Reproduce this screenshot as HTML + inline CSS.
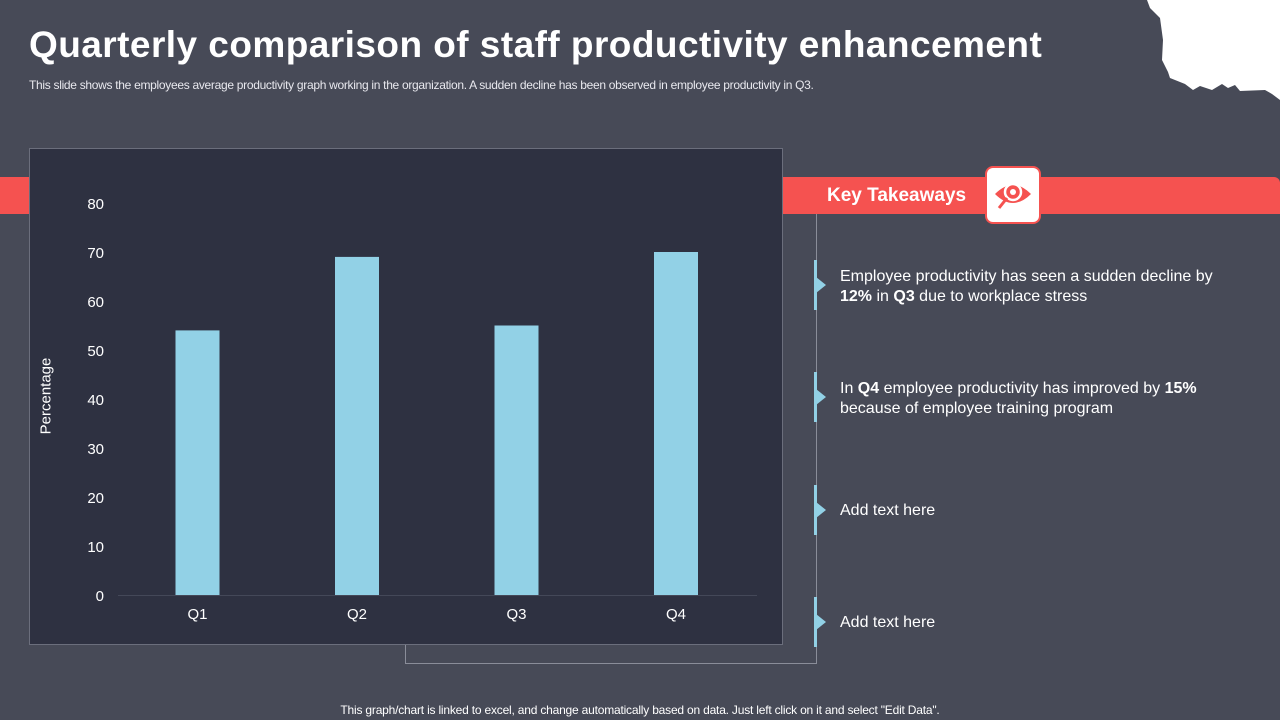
<!DOCTYPE html>
<html><head><meta charset="utf-8"><style>
body{margin:0;width:1280px;height:720px;overflow:hidden;background:#474a57;font-family:"Liberation Sans",sans-serif;position:relative;color:#fff}
.abs{position:absolute}
</style></head><body>
<div class="abs" style="left:0;top:0;width:1280px;height:110px">
<svg width="1280" height="110"><polygon fill="#fff" points="1147,0 1280,0 1280,100 1272,94 1265,90 1240,91 1235,85 1228,88 1222,84 1212,90 1200,86 1193,90 1185,84 1170,78 1168,72 1162,60 1163,40 1160,18 1150,8"/></svg></div>
<div class="abs" style="left:29px;top:24px;font-size:37px;font-weight:bold;letter-spacing:0.45px">Quarterly comparison of staff productivity enhancement</div>
<div class="abs" style="left:29px;top:78px;font-size:12px;color:#e8e8ee;letter-spacing:-0.3px">This slide shows the employees average productivity graph working in the organization. A sudden decline has been observed in employee productivity in Q3.</div>
<div class="abs" style="left:0;top:177px;width:1280px;height:37px;background:#f55250;border-radius:0 6px 0 0"></div>
<div class="abs" style="left:405px;top:214px;width:410px;height:449px;border-right:1px solid #8a8d99;border-bottom:1px solid #8a8d99;border-left:1px solid #8a8d99"></div>
<div class="abs" style="left:827px;top:185px;font-size:19px;font-weight:bold">Key Takeaways</div>
<div class="abs" style="left:987px;top:168px;width:52px;height:54px;background:#fff;border-radius:6px;box-shadow:0 0 0 2px #f55250">
<svg width="52" height="54"><path d="M8 26 Q26 8 44 26 Q26 44 8 26Z" fill="#f55250"/><circle cx="26" cy="24" r="8" fill="none" stroke="#fff" stroke-width="2.5"/><circle cx="26" cy="24" r="3" fill="#fff"/><line x1="20" y1="30" x2="12" y2="40" stroke="#f55250" stroke-width="3"/></svg></div>
<div class="abs" style="left:29px;top:148px;width:752px;height:495px;background:#2e3141;border:1px solid #6b6e7c"></div>
<svg class="abs" style="left:0;top:0" width="800" height="660" id="chart"></svg>
<div class="abs" style="left:46px;top:396px;font-size:15px;transform:translate(-50%,-50%) rotate(-90deg)">Percentage</div>
<script>
const categories=["Q1","Q2","Q3","Q4"];
const values=[54,69,55,70];
const ticks=[0,10,20,30,40,50,60,70,80];
const ns="http://www.w3.org/2000/svg",svg=document.getElementById('chart');
const y=v=>595-v*4.9, x=i=>118+159.5*i+79.5;
function mk(t,a){const e=document.createElementNS(ns,t);for(const k in a)e.setAttribute(k,a[k]);svg.appendChild(e);return e;}
ticks.forEach(t=>{const e=mk('text',{x:104,y:y(t)+6,'text-anchor':'end',fill:'#fff','font-size':15,'font-family':'Liberation Sans'});e.textContent=t;

});
const ax=mk('line',{x1:118,x2:757,y1:595.5,y2:595.5,stroke:'#444858'});


categories.forEach((c,i)=>{const b=mk('rect',{x:x(i)-22,y:y(values[i]),width:44,height:values[i]*4.9,fill:'#92d1e6'});


const t=mk('text',{x:x(i),y:619,'text-anchor':'middle',fill:'#fff','font-size':15,'font-family':'Liberation Sans'});t.textContent=c;

});
</script>
<div class="abs" style="left:840px;top:267px;font-size:16px;line-height:20px">Employee productivity has seen a sudden decline by<br><b>12%</b> in <b>Q3</b> due to workplace stress</div>
<div class="abs" style="left:840px;top:379px;font-size:16px;line-height:20px">In <b>Q4</b> employee productivity has improved by <b>15%</b><br>because of employee training program</div>
<div class="abs" style="left:840px;top:502px;font-size:16px">Add text here</div>
<div class="abs" style="left:840px;top:614px;font-size:16px">Add text here</div>
<svg class="abs" style="left:810px;top:0" width="20" height="720">
<g fill="#92d1e6"><rect x="4" y="260" width="3" height="50"/><polygon points="6,277 16,285 6,293"/>
<rect x="4" y="372" width="3" height="50"/><polygon points="6,389 16,397 6,405"/>
<rect x="4" y="485" width="3" height="50"/><polygon points="6,502 16,510 6,518"/>
<rect x="4" y="597" width="3" height="50"/><polygon points="6,614 16,622 6,630"/></g></svg>
<div class="abs" style="left:0;width:1280px;text-align:center;top:703px;font-size:12px;letter-spacing:-0.2px">This graph/chart is linked to excel, and change automatically based on data. Just left click on it and select "Edit Data".</div>
</body></html>
